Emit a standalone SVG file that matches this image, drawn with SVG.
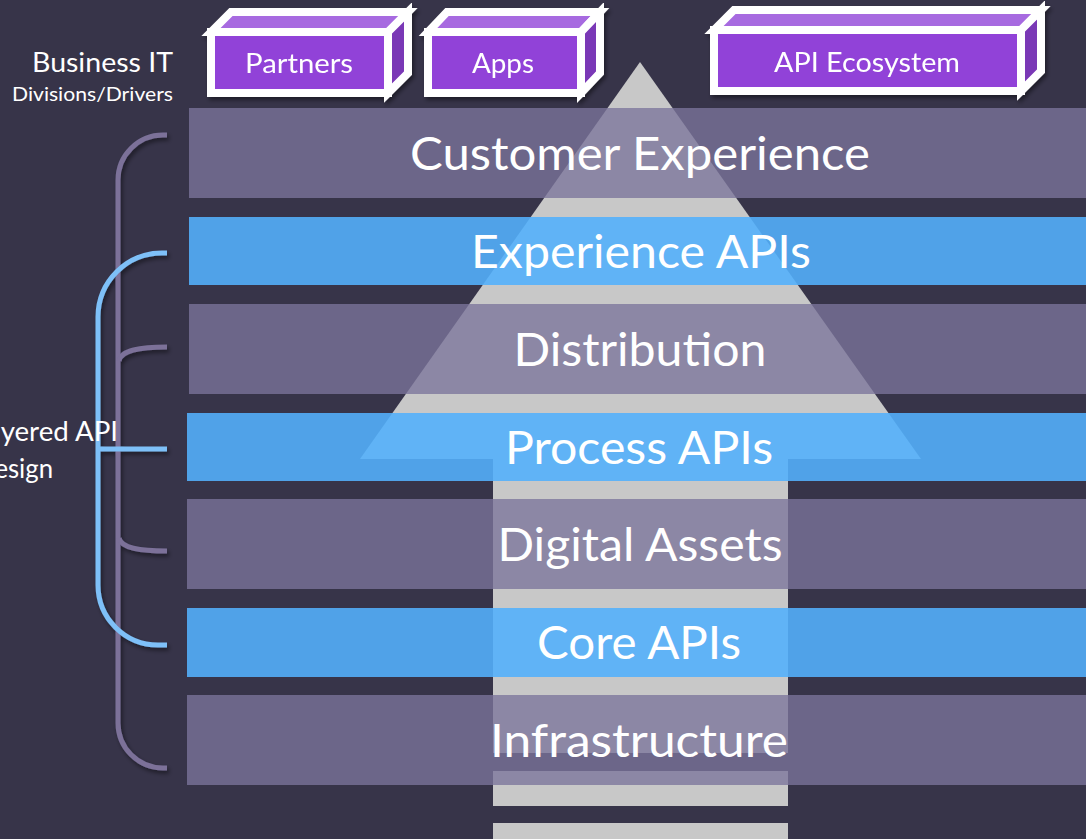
<svg xmlns="http://www.w3.org/2000/svg" width="1086" height="839" viewBox="0 0 1086 839">
  <style>
    .band { fill: rgb(123,117,155); fill-opacity: 0.78; }
    .api { fill: rgb(83,176,252); fill-opacity: 0.89; }
    .lbl { font-family: Lato, "Liberation Sans", sans-serif; fill: #ffffff; font-size: 46px; text-anchor: middle; }
    .side { font-family: Lato, "Liberation Sans", sans-serif; fill: #ffffff; }
    .boxtxt { font-family: Lato, "Liberation Sans", sans-serif; fill: #ffffff; font-size: 27px; text-anchor: middle; }
    .face { stroke: #ffffff; stroke-width: 8; stroke-linejoin: miter; }
    .front { fill: #9143d8; }
    .top { fill: #a76be0; }
    .rside { fill: #7a37b6; }
    .brk { fill: none; stroke-width: 5; stroke-linecap: butt; }
    .pur { stroke: #7b7199; }
    .blu { stroke: #7ec0f8; }
  </style>
  <defs>
    <filter id="sh" x="-10%" y="-10%" width="130%" height="130%">
      <feDropShadow dx="2" dy="3" stdDeviation="2" flood-color="#000000" flood-opacity="0.45"/>
    </filter>
  </defs>

  <rect x="0" y="0" width="1086" height="839" fill="#373449"/>

  <g id="arrow" fill="#c8c8c8">
    <polygon points="640,62 921,459 360,459"/>
    <rect x="493" y="458" width="295" height="295"/>
    <rect x="493" y="771" width="295" height="35"/>
    <rect x="493" y="823" width="295" height="20"/>
  </g>

  <g id="customer-experience">
    <rect class="band" x="189" y="108" width="900" height="90"/>
    <text class="lbl" x="640" y="170" textLength="460" lengthAdjust="spacingAndGlyphs">Customer Experience</text>
  </g>
  <g id="experience-apis">
    <rect class="api" x="189" y="217" width="900" height="68"/>
    <text class="lbl" x="641" y="268" textLength="340" lengthAdjust="spacingAndGlyphs">Experience APIs</text>
  </g>
  <g id="distribution">
    <rect class="band" x="189" y="304" width="900" height="90"/>
    <text class="lbl" x="640" y="366" textLength="253" lengthAdjust="spacingAndGlyphs">Distribution</text>
  </g>
  <g id="process-apis">
    <rect class="api" x="187" y="413" width="902" height="68"/>
    <text class="lbl" x="639" y="464" textLength="268" lengthAdjust="spacingAndGlyphs">Process APIs</text>
  </g>
  <g id="digital-assets">
    <rect class="band" x="187" y="499" width="902" height="90"/>
    <text class="lbl" x="640" y="561" textLength="285" lengthAdjust="spacingAndGlyphs">Digital Assets</text>
  </g>
  <g id="core-apis">
    <rect class="api" x="187" y="608" width="902" height="69"/>
    <text class="lbl" x="639" y="659" textLength="204" lengthAdjust="spacingAndGlyphs">Core APIs</text>
  </g>
  <g id="infrastructure">
    <rect class="band" x="187" y="695" width="902" height="90"/>
    <text class="lbl" x="639" y="757" textLength="298" lengthAdjust="spacingAndGlyphs">Infrastructure</text>
  </g>

  <g id="connectors" filter="url(#sh)">
    <path class="brk pur" d="M167,135 H163 A45,45 0 0 0 118,180 V723 A45,45 0 0 0 163,768 H167"/>
    <path class="brk pur" d="M119,361 C121,350 140,347 167,347"/>
    <path class="brk pur" d="M119,538 C121,548 140,551 167,551"/>
    <path class="brk blu" d="M167,253 H162 A64,64 0 0 0 98,317 V585 A60,60 0 0 0 158,645 H167"/>
    <path class="brk blu" d="M98,449 H167"/>
  </g>

  <g id="business-it-label">
    <text class="side" x="173" y="72" font-size="26" text-anchor="end" textLength="141" lengthAdjust="spacingAndGlyphs">Business IT</text>
    <text class="side" x="173" y="101" font-size="20" text-anchor="end" textLength="161" lengthAdjust="spacingAndGlyphs">Divisions/Drivers</text>
  </g>
  <g id="layered-api-label">
    <text class="side" x="118" y="441" font-size="26" text-anchor="end" textLength="145" lengthAdjust="spacingAndGlyphs">Layered API</text>
    <text class="side" x="53" y="478" font-size="26" text-anchor="end" textLength="78" lengthAdjust="spacingAndGlyphs">Design</text>
  </g>

  <g id="partners" filter="url(#sh)">
    <polygon class="face top" points="211,32 231,12 408,12 388,32"/>
    <polygon class="face rside" points="388,32 408,12 408,73 388,93"/>
    <rect class="face front" x="211" y="32" width="177" height="61"/>
    <text class="boxtxt" x="299" y="73" textLength="108" lengthAdjust="spacingAndGlyphs">Partners</text>
  </g>
  <g id="apps" filter="url(#sh)">
    <polygon class="face top" points="428,32 447,12 600,12 581,32"/>
    <polygon class="face rside" points="581,32 600,12 600,73 581,93"/>
    <rect class="face front" x="428" y="32" width="153" height="61"/>
    <text class="boxtxt" x="503" y="73" textLength="62" lengthAdjust="spacingAndGlyphs">Apps</text>
  </g>
  <g id="api-ecosystem" filter="url(#sh)">
    <polygon class="face top" points="714,30 734,10 1041,10 1021,30"/>
    <polygon class="face rside" points="1021,30 1041,10 1041,71 1021,91"/>
    <rect class="face front" x="714" y="30" width="307" height="61"/>
    <text class="boxtxt" x="867" y="72" textLength="186" lengthAdjust="spacingAndGlyphs">API Ecosystem</text>
  </g>
</svg>
